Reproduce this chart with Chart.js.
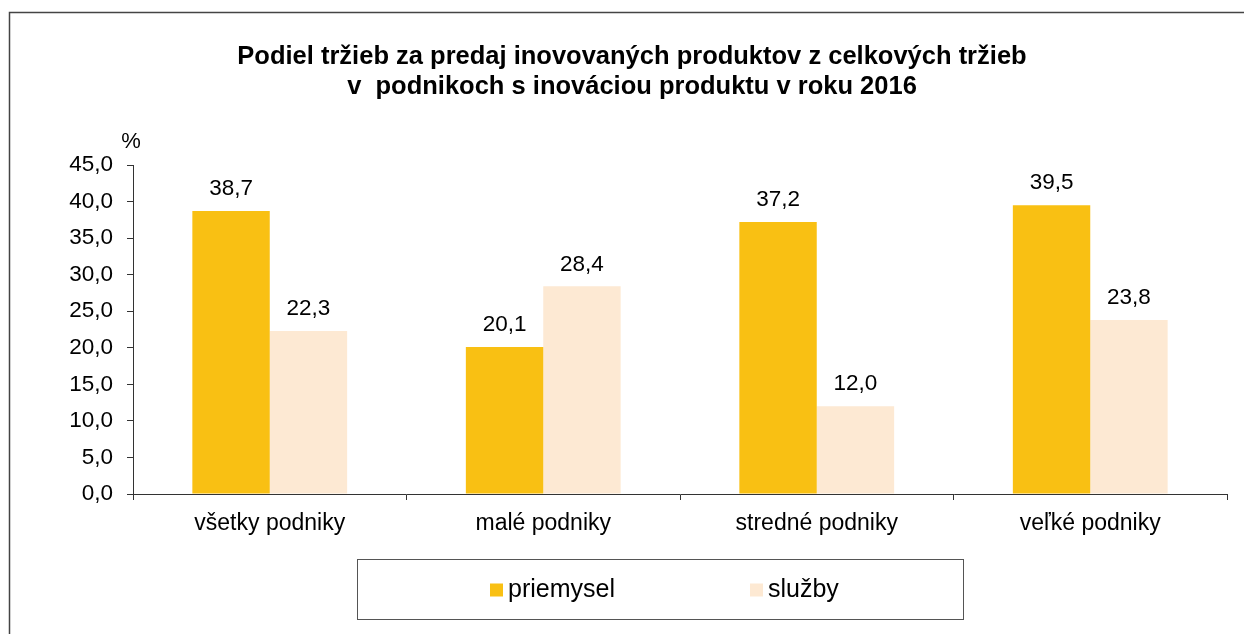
<!DOCTYPE html>
<html>
<head>
<meta charset="utf-8">
<script src="https://cdn.jsdelivr.net/npm/chart.js@4.4.0/dist/chart.umd.min.js"></script>
<style>
html,body{margin:0;padding:0;background:#fff;}
canvas{display:block;}
</style>
</head>
<body>
<canvas id="c" width="1244" height="634"></canvas>
<script>
const categories = ['všetky podniky', 'malé podniky', 'stredné podniky', 'veľké podniky'];
const priemysel = [38.7, 20.1, 37.2, 39.5];
const sluzby = [22.3, 28.4, 12.0, 23.8];
const seriesNames = ['priemysel', 'služby'];
const titleLines = ['Podiel tržieb za predaj inovovaných produktov z celkových tržieb', 'v  podnikoch s inováciou produktu v roku 2016'];
const unitLabel = '%';
const yMin = 0, yMax = 45, yStep = 5;

const colors = ['#F9C013', '#FDE9D3'];
const FONT = 'Arial, "Liberation Sans", sans-serif';
const fmt = v => Number(v).toFixed(1).replace('.', ',');

const decor = {
  id: 'decor',
  afterDraw(chart) {
    const ctx = chart.ctx;
    const ca = chart.chartArea;
    ctx.save();
    // outer frame (top + left)
    ctx.strokeStyle = '#444';
    ctx.lineWidth = 1.5;
    ctx.beginPath();
    ctx.moveTo(9.5, 634);
    ctx.lineTo(9.5, 12.5);
    ctx.lineTo(1244, 12.5);
    ctx.stroke();
    // title
    ctx.fillStyle = '#000';
    ctx.textAlign = 'center';
    ctx.textBaseline = 'middle';
    ctx.font = 'bold 25.5px ' + FONT;
    titleLines.forEach((t, i) => ctx.fillText(t, 632, 57 + i * 30));
    // unit label
    ctx.font = '22px ' + FONT;
    ctx.fillText(unitLabel, ca.left - 2, ca.top - 23);
    // data labels
    ctx.font = '22.5px ' + FONT;
    chart.data.datasets.forEach((ds, i) => {
      const meta = chart.getDatasetMeta(i);
      meta.data.forEach((bar, j) => {
        ctx.fillText(fmt(ds.data[j]), bar.x, bar.y - 22);
      });
    });
    // legend box
    const bx = 357.5, by = 559.5, bw = 606, bh = 60;
    ctx.strokeStyle = '#555';
    ctx.lineWidth = 1;
    ctx.strokeRect(bx, by, bw, bh);
    const items = [490, 750];
    ctx.font = '25px ' + FONT;
    ctx.textAlign = 'left';
    chart.data.datasets.forEach((ds, i) => {
      const x = items[i];
      const cy = by + bh / 2;
      ctx.fillStyle = ds.backgroundColor;
      ctx.fillRect(x, cy - 6, 13, 13);
      ctx.fillStyle = '#000';
      ctx.fillText(ds.label, x + 18, cy + 1);
    });
    ctx.restore();
  }
};

new Chart(document.getElementById('c'), {
  type: 'bar',
  data: {
    labels: categories,
    datasets: [
      { label: seriesNames[0], data: priemysel, backgroundColor: colors[0], borderWidth: 0 },
      { label: seriesNames[1], data: sluzby, backgroundColor: colors[1], borderWidth: 0 }
    ]
  },
  options: {
    responsive: false,
    animation: false,
    devicePixelRatio: 1,
    layout: { padding: { left: 0, right: 17, top: 165, bottom: 0 } },
    datasets: { bar: { barPercentage: 1, categoryPercentage: 0.566 } },
    plugins: {
      legend: { display: false },
      tooltip: { enabled: false },
      title: { display: false }
    },
    scales: {
      x: {
        afterFit(s) { s.height = 140; },
        grid: { offset: true, drawOnChartArea: false, tickLength: 6, color: '#333' },
        border: { color: '#333', width: 1 },
        ticks: { color: '#000', font: { family: FONT, size: 23 }, padding: 10 }
      },
      y: {
        min: yMin, max: yMax,
        afterFit(s) { s.width = 133; },
        grid: { drawOnChartArea: false, tickLength: 6, color: '#333' },
        border: { color: '#333', width: 1 },
        ticks: { stepSize: yStep, color: '#000', font: { family: FONT, size: 22.5 }, padding: 14, callback: v => fmt(v) }
      }
    }
  },
  plugins: [decor]
});
</script>
</body>
</html>
